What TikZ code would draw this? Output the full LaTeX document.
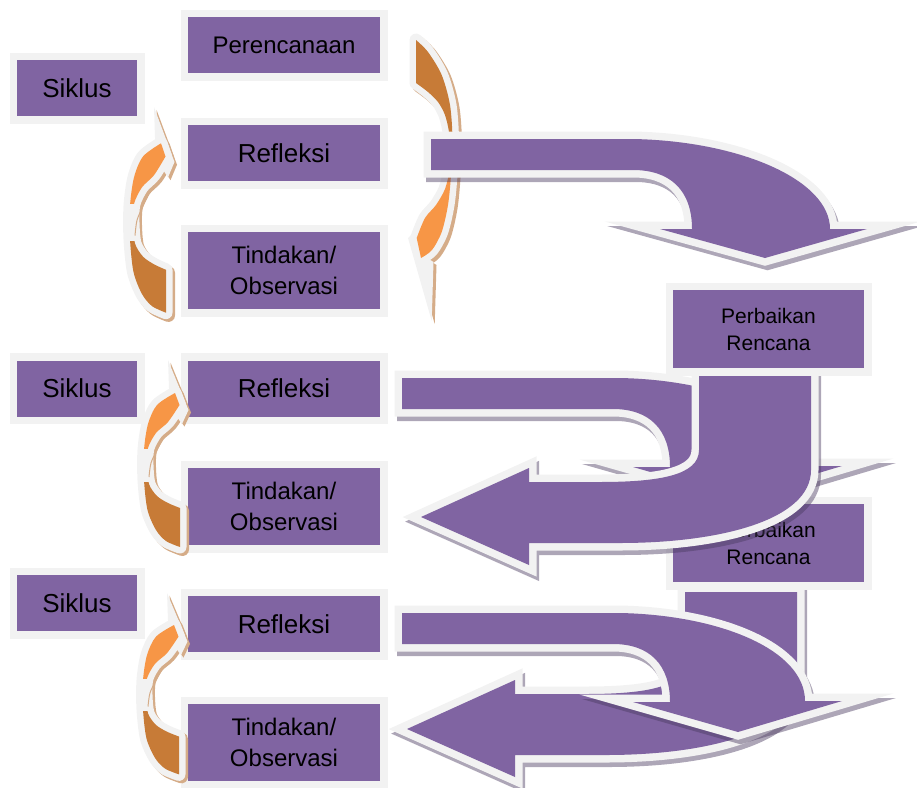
\documentclass[tikz,border=0pt]{standalone}
\usepackage{fontspec}
\setmainfont{Liberation Sans}
\definecolor{purp}{HTML}{8064A2}
\definecolor{fr}{HTML}{F2F2F2}
\definecolor{orL}{HTML}{F79646}
\definecolor{orD}{HTML}{C77B37}
\definecolor{shP}{HTML}{4A3A60}
\definecolor{shO}{HTML}{D5AC88}
% crescent of the small circular arrows (local coordinates)
\newcommand\crescentpath{plot[smooth] coordinates {(7,33) (-11,45) (-20,64) (-24,90) (-24,120) (-20.5,150) (-12,170) (-2,181) (12,187)} -- plot[smooth] coordinates {(12,148) (0,143) (-11,136) (-19,124) (-21,105) (-20,88) (-12,73) (0,62) (11.5,45)} -- cycle}
\newcommand\headpath{(0,0) -- (20.5,50) -- (14,64) -- (4,50) -- (1,28) -- cycle}
% right circular arrow (absolute)
\newcommand\crescentR{plot[smooth] coordinates {(416,40) (428,52) (441.7,75) (450,105) (452.5,140) (451,175) (448,205) (441.7,232) (432,250) (421,258)} -- plot[smooth] coordinates {(416.7,238) (425,218) (436,205) (445,189) (449.5,170) (450,150) (449,132) (445,115) (438,102) (428,92) (416,83)} -- cycle}
\newcommand\headR{(408,238) -- (431.7,321) -- (433.5,262) -- (424,256) -- (414,232) -- cycle}
% big arrows
\newcommand\arrowA{(431,139) -- (633,139) .. controls (740,141) and (830,180) .. (830,229) -- (867,229) -- (765,258) -- (660,229) -- (692,229) .. controls (692,190) and (670,170) .. (633,170) -- (431,170) -- cycle}
\newcommand\arrowB{(402,378) -- (620,378) .. controls (720,380) and (805,415) .. (805,466) -- (842,466) -- (738,497) -- (633,467) -- (670,467) .. controls (670,430) and (650,409) .. (613,409) -- (402,409) -- cycle}
\newcommand\arrowJ[1]{(699,#1) -- (699,450) .. controls (699,475) and (660,482) .. (600,482) -- (529,482) -- (529,468) -- (421,517) -- (529,565) -- (529,543) -- (620,543) .. controls (720,543) and (811,520) .. (811,470) -- (811,#1) -- cycle}
\newcommand\smallarrow[3]{%
  \begin{scope}[shift={(#1,#2)}, yscale=#3]
    \begin{scope}[shift={(2.5,2.5)}]
      \path[fill=shO, draw=shO, line width=13pt, line join=round] \crescentpath;
      \fill[shO] \headpath;
    \end{scope}
    \path[fill=fr, draw=fr, line width=13pt, line join=round] \crescentpath;
    \fill[fr] \headpath;
    \draw[shO, line width=1pt] plot[smooth] coordinates {(-3,75) (-11,90) (-17,103) (-19,117)};
    \begin{scope}
      \clip (-40,-10) rectangle (40,88);
      \fill[orL] \crescentpath;
    \end{scope}
    \begin{scope}
      \clip (-40,122) rectangle (40,200);
      \fill[orD] \crescentpath;
    \end{scope}
  \end{scope}}
\begin{document}
\begin{tikzpicture}[x=1pt,y=-1pt,
  box/.style={fill=purp, preaction={draw=fr, line width=15pt}, inner sep=0pt, align=center, text=black},
  bigA/.style={fill=purp, preaction={draw=fr, line width=15pt, line join=miter, miter limit=12}},
  bigS/.style={fill=shP, draw=shP, line width=15pt, line join=miter, miter limit=12, opacity=0.45},
  fbig/.style={font={\fontsize{26}{30}\selectfont}},
  fmid/.style={font={\fontsize{24}{31}\selectfont}},
  fsmall/.style={font={\fontsize{21}{27}\selectfont}}]
\useasboundingbox (0,0) rectangle (917,787);

% left column boxes
\node[box, fbig, minimum width=120pt, minimum height=56pt] (siklusA) at (77,88) {Siklus};
\node[box, fmid, minimum width=192pt, minimum height=56pt] (perenc) at (284,45) {Perencanaan};
\node[box, fbig, minimum width=192pt, minimum height=56pt] (reflA) at (284,153) {Refleksi};
\node[box, fmid, minimum width=192pt, minimum height=77pt] (tindA) at (284,270.5) {Tindakan/\\Observasi};

\node[box, fbig, minimum width=120pt, minimum height=56pt] (siklusB) at (77,388.5) {Siklus};
\node[box, fbig, minimum width=192pt, minimum height=56pt] (reflB) at (284,388.5) {Refleksi};
\node[box, fmid, minimum width=192pt, minimum height=77pt] (tindB) at (284,506.5) {Tindakan/\\Observasi};

\node[box, fbig, minimum width=120pt, minimum height=56pt] (siklusC) at (77,603) {Siklus};
\node[box, fbig, minimum width=192pt, minimum height=56pt] (reflC) at (284,624) {Refleksi};
\node[box, fmid, minimum width=192pt, minimum height=77pt] (tindC) at (284,742.5) {Tindakan/\\Observasi};

% small circular arrows
\smallarrow{154}{107}{1.1}
\smallarrow{168}{360}{1}
\smallarrow{167}{593}{0.97}

% right circular arrow
\begin{scope}[shift={(3,3)}]
  \path[fill=shO, draw=shO, line width=13pt, line join=round] \crescentR;
  \fill[shO] \headR;
\end{scope}
\path[fill=fr, draw=fr, line width=13pt, line join=round] \crescentR;
\fill[fr] \headR;
\begin{scope}
  \clip (400,20) rectangle (470,155);
  \fill[orD] \crescentR;
\end{scope}
\begin{scope}
  \clip (400,155) rectangle (470,300);
  \fill[orL] \crescentR;
\end{scope}

% arrow 1
\path[bigS, shift={(2.5,4.5)}] \arrowA;
\path[bigA] \arrowA;

% arrow 2
\path[bigS, shift={(2.5,4.5)}] \arrowB;
\path[bigA] \arrowB;

% arrow 5 (bottom return)
\begin{scope}[shift={(-14,212)}]
  \path[bigS, shift={(2.5,4.5)}] \arrowJ{380};
  \path[bigA] \arrowJ{380};
\end{scope}

\node[box, fsmall, minimum width=191pt, minimum height=78pt] (perbB) at (768.5,543) {Perbaikan\\Rencana};

% arrow 3 (middle return)
\path[bigS, shift={(2.5,4.5)}] \arrowJ{360};
\path[bigA] \arrowJ{360};

\node[box, fsmall, minimum width=191pt, minimum height=78pt] (perbA) at (768.5,329) {Perbaikan\\Rencana};

% arrow 4
\begin{scope}[shift={(0,235)}]
  \path[bigS, shift={(2.5,4.5)}] \arrowB;
  \path[bigA] \arrowB;
\end{scope}
\end{tikzpicture}
\end{document}
